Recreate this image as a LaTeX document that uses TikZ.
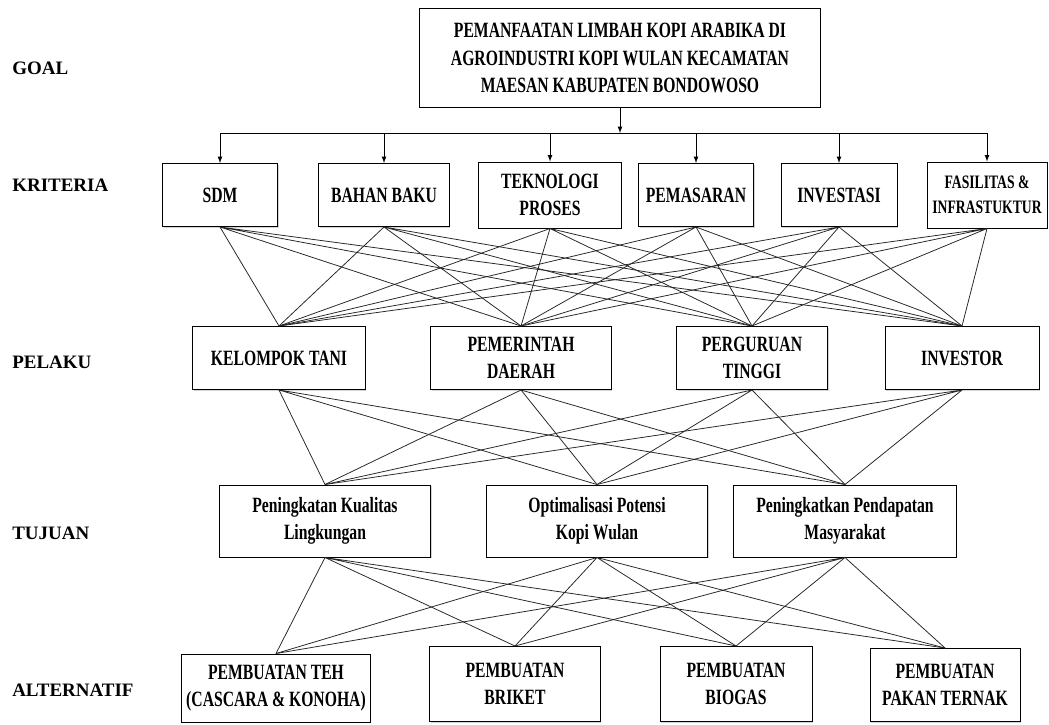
\documentclass[tikz,border=0pt]{standalone}
\usepackage{fontspec}
\setmainfont{Liberation Serif}
\newfontfamily\sempit[FakeStretch=0.72]{Liberation Serif}
\usetikzlibrary{shadows}

\begin{document}
\begin{tikzpicture}[x=0.025cm,y=-0.025cm,
  kotak/.style={draw,fill=white,line width=0.7pt,align=center,inner sep=1pt,
    font=\sempit\bfseries\fontsize{15.5}{19.5}\selectfont,
    drop shadow={shadow xshift=1pt,shadow yshift=-1pt,opacity=0.35}},
  level/.style={anchor=west,inner sep=0pt,font=\bfseries\fontsize{13.5}{16}\selectfont},
  garis/.style={line width=0.55pt,black!85},
  panah/.style={line width=0.6pt}]
\useasboundingbox (0,0) rectangle (1049,724);

% tingkat
\node[level] (lgoal) at (12,68) {GOAL};
\node[level] (lkriteria) at (12,185) {KRITERIA};
\node[level] (lpelaku) at (12,362) {PELAKU};
\node[level] (ltujuan) at (12,533) {TUJUAN};
\node[level] (lalternatif) at (12,690) {ALTERNATIF};

% goal
\node[kotak,minimum width=10cm,minimum height=2.45cm] (goal) at (620,58) {PEMANFAATAN LIMBAH KOPI ARABIKA DI\\AGROINDUSTRI KOPI WULAN KECAMATAN\\MAESAN KABUPATEN BONDOWOSO};

% kriteria
\node[kotak,minimum width=2.875cm,minimum height=1.575cm] (sdm) at (220,195) {SDM};
\node[kotak,minimum width=3.25cm,minimum height=1.575cm] (bahan) at (384,195) {BAHAN BAKU};
\node[kotak,minimum width=3.55cm,minimum height=1.65cm] (tekno) at (550,195) {TEKNOLOGI\\PROSES};
\node[kotak,minimum width=2.875cm,minimum height=1.575cm] (pemasaran) at (696,195) {PEMASARAN};
\node[kotak,minimum width=2.9cm,minimum height=1.575cm] (investasi) at (839,195) {INVESTASI};
\node[kotak,minimum width=3cm,minimum height=1.65cm,font=\sempit\bfseries\fontsize{13.5}{18}\selectfont] (fasilitas) at (987,195) {FASILITAS \&\\INFRASTUKTUR};

% pelaku
\node[kotak,minimum width=4.3cm,minimum height=1.575cm] (tani) at (279,358) {KELOMPOK TANI};
\node[kotak,minimum width=4.5cm,minimum height=1.575cm] (pemda) at (521,358) {PEMERINTAH\\DAERAH};
\node[kotak,minimum width=3.775cm,minimum height=1.575cm] (pt) at (752,358) {PERGURUAN\\TINGGI};
\node[kotak,minimum width=3.85cm,minimum height=1.575cm] (investor) at (962,358) {INVESTOR};

% tujuan
\node[kotak,minimum width=5.275cm,minimum height=1.8cm] (kualitas) at (325,521) {Peningkatan Kualitas\\Lingkungan};
\node[kotak,minimum width=5.525cm,minimum height=1.8cm] (potensi) at (597,521) {Optimalisasi Potensi\\Kopi Wulan};
\node[kotak,minimum width=5.55cm,minimum height=1.8cm] (pendapatan) at (845,521) {Peningkatkan Pendapatan\\Masyarakat};

% alternatif
\node[kotak,minimum width=4.7cm,minimum height=1.7cm] (teh) at (276,688) {PEMBUATAN TEH\\(CASCARA \& KONOHA)};
\node[kotak,minimum width=4.25cm,minimum height=1.875cm] (briket) at (515,684) {PEMBUATAN\\BRIKET};
\node[kotak,minimum width=3.8cm,minimum height=1.875cm] (biogas) at (736,684) {PEMBUATAN\\BIOGAS};
\node[kotak,minimum width=3.75cm,minimum height=1.825cm] (pakan) at (945,685) {PEMBUATAN\\PAKAN TERNAK};

% goal ke kriteria
\coordinate (bus) at (620,133);
\draw[panah,-latex] (goal.south) -- (goal.south |- bus);
\draw[panah] (sdm.north |- bus) -- (fasilitas.north |- bus);
\draw[panah,-latex] (sdm.north |- bus) -- (sdm.north);
\draw[panah,-latex] (bahan.north |- bus) -- (bahan.north);
\draw[panah,-latex] (tekno.north |- bus) -- (tekno.north);
\draw[panah,-latex] (pemasaran.north |- bus) -- (pemasaran.north);
\draw[panah,-latex] (investasi.north |- bus) -- (investasi.north);
\draw[panah,-latex] (fasilitas.north |- bus) -- (fasilitas.north);

% kriteria ke pelaku
\draw[garis] (sdm.south)--(tani.north) (sdm.south)--(pemda.north) (sdm.south)--(pt.north) (sdm.south)--(investor.north);
\draw[garis] (bahan.south)--(tani.north) (bahan.south)--(pemda.north) (bahan.south)--(pt.north) (bahan.south)--(investor.north);
\draw[garis] (tekno.south)--(tani.north) (tekno.south)--(pemda.north) (tekno.south)--(pt.north) (tekno.south)--(investor.north);
\draw[garis] (pemasaran.south)--(tani.north) (pemasaran.south)--(pemda.north) (pemasaran.south)--(pt.north) (pemasaran.south)--(investor.north);
\draw[garis] (investasi.south)--(tani.north) (investasi.south)--(pemda.north) (investasi.south)--(pt.north) (investasi.south)--(investor.north);
\draw[garis] (fasilitas.south)--(tani.north) (fasilitas.south)--(pemda.north) (fasilitas.south)--(pt.north) (fasilitas.south)--(investor.north);

% pelaku ke tujuan
\draw[garis] (tani.south)--(kualitas.north) (tani.south)--(potensi.north) (tani.south)--(pendapatan.north);
\draw[garis] (pemda.south)--(kualitas.north) (pemda.south)--(potensi.north) (pemda.south)--(pendapatan.north);
\draw[garis] (pt.south)--(kualitas.north) (pt.south)--(potensi.north) (pt.south)--(pendapatan.north);
\draw[garis] (investor.south)--(kualitas.north) (investor.south)--(potensi.north) (investor.south)--(pendapatan.north);

% tujuan ke alternatif
\draw[garis] (kualitas.south)--(teh.north) (kualitas.south)--(briket.north) (kualitas.south)--(biogas.north) (kualitas.south)--(pakan.north);
\draw[garis] (potensi.south)--(teh.north) (potensi.south)--(briket.north) (potensi.south)--(biogas.north) (potensi.south)--(pakan.north);
\draw[garis] (pendapatan.south)--(teh.north) (pendapatan.south)--(briket.north) (pendapatan.south)--(biogas.north) (pendapatan.south)--(pakan.north);
\end{tikzpicture}
\end{document}
